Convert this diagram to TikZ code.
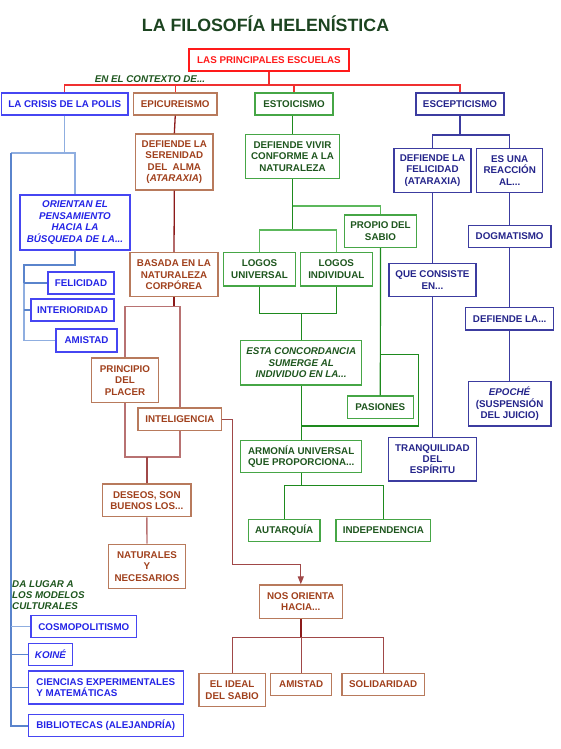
\documentclass[tikz,border=0pt]{standalone}
\usepackage{fontspec}
\setmainfont{Liberation Sans}
\usetikzlibrary{arrows.meta}
\definecolor{cRed}{HTML}{FF1A1A}
\definecolor{cRedL}{HTML}{F03030}
\definecolor{cBlueT}{HTML}{2424E6}
\definecolor{cBlueB}{HTML}{4646F2}
\definecolor{cBlueL}{HTML}{5A84CC}
\definecolor{cBlueL2}{HTML}{8FAEE0}
\definecolor{cBrT}{HTML}{A0401C}
\definecolor{cBrB}{HTML}{B87A5C}
\definecolor{cBrD}{HTML}{8C1A1A}
\definecolor{cBrL}{HTML}{B87272}
\definecolor{cBrM}{HTML}{A04848}
\definecolor{cGrT}{HTML}{1E561E}
\definecolor{cGrB}{HTML}{46A646}
\definecolor{cGrD}{HTML}{1E8A1E}
\definecolor{cGrL}{HTML}{5CB85C}
\definecolor{cNvT}{HTML}{24248A}
\definecolor{cNvB}{HTML}{3C3CA0}
\definecolor{cTitle}{HTML}{1C4420}
\tikzset{
  box/.style={draw, line width=1.4pt, inner sep=0pt, align=center,
    font=\fontsize{9.8}{11.4}\selectfont\bfseries},
  rd/.style={box, draw=cRed, text=cRed},
  bl/.style={box, draw=cBlueB, text=cBlueT},
  br/.style={box, draw=cBrB, text=cBrT},
  gr/.style={box, draw=cGrB, text=cGrT},
  nv/.style={box, draw=cNvB, text=cNvT},
  lab/.style={inner sep=0pt, text=cGrT, font=\fontsize{9.8}{11.3}\selectfont\bfseries\itshape},
  redl/.style={draw=cRedL, line width=1.2pt},
  bll/.style={draw=cBlueL2, line width=1.3pt},
  blm/.style={draw=cBlueL, line width=2pt},
  brd/.style={draw=cBrD, line width=1.3pt},
  brl/.style={draw=cBrL, line width=1.4pt},
  brm/.style={draw=cBrM, line width=1.3pt},
  grd/.style={draw=cGrD, line width=1.2pt},
  grl/.style={draw=cGrL, line width=1.2pt},
  nvl/.style={draw=cNvB, line width=1.2pt},
}
\newcommand\B[7]{\node[#2, minimum width={#5pt-#3pt}, minimum height={#6pt-#4pt}] (#1) at ({(#3+#5)/2},{(#4+#6)/2}) {#7};}
\begin{document}
\begin{tikzpicture}[x=1pt,y=-1pt]
\useasboundingbox (0,0) rectangle (560,749);
\node[anchor=base, inner sep=0pt, text=cTitle, font=\fontsize{17.8}{20}\selectfont\bfseries] (title) at (265.5,31.5) {LA FILOSOFÍA HELENÍSTICA};

% top level
\B{principales}{rd}{189}{49}{349}{71}{LAS PRINCIPALES ESCUELAS}
\node[lab] (ctx) at (150,79) {EN EL CONTEXTO DE...};
\B{crisis}{bl}{1.5}{93}{128}{115}{LA CRISIS DE LA POLIS}
\B{epi}{br}{133.5}{93}{217}{115}{EPICUREISMO}
\B{esto}{gr}{255}{93}{333}{115}{ESTOICISMO}
\B{esc}{nv}{416}{93}{504}{115}{ESCEPTICISMO}

% blue branch
\B{orientan}{bl}{20}{195}{130}{250}{\itshape ORIENTAN EL\\\itshape PENSAMIENTO\\\itshape HACIA LA\\\itshape BÚSQUEDA DE LA...}
\B{felic}{bl}{48}{272}{114}{294}{FELICIDAD}
\B{inter}{bl}{31}{299}{114}{321}{INTERIORIDAD}
\B{amisA}{bl}{56}{329}{117}{352}{AMISTAD}
\node[lab, anchor=west, align=left] (dalugar) at (12,595) {DA LUGAR A\\LOS MODELOS\\CULTURALES};
\B{cosmo}{bl}{31}{615.7}{136.7}{637.7}{COSMOPOLITISMO}
\B{koine}{bl}{28.3}{643.3}{72.7}{665.3}{\itshape KOINÉ}
\node[box, draw=cBlueB, text=cBlueT, align=left, minimum width=155pt, minimum height=33pt] (ciencias) at (105.8,687.5) {CIENCIAS EXPERIMENTALES\\Y MATEMÁTICAS};
\B{biblio}{bl}{28.3}{714.3}{183.3}{736.7}{BIBLIOTECAS (ALEJANDRÍA)}

% epicurean branch
\B{serenidad}{br}{135.7}{134}{213}{190}{DEFIENDE LA\\SERENIDAD\\DEL\ \ ALMA\\(\textit{ATARAXIA})}
\B{basada}{br}{130}{252.7}{218}{296.7}{BASADA EN LA\\NATURALEZA\\CORPÓREA}
\B{principio}{br}{91.7}{358}{158.3}{402.7}{PRINCIPIO\\DEL\\PLACER}
\B{intel}{br}{138}{408}{221.7}{430.5}{INTELIGENCIA}
\B{deseos}{br}{102.7}{484}{191}{516.7}{DESEOS, SON\\BUENOS LOS...}
\B{naturales}{br}{108.3}{544.3}{185.7}{588.3}{NATURALES\\Y\\NECESARIOS}
\B{nos}{br}{259.3}{585}{342.3}{618.7}{NOS ORIENTA\\HACIA...}
\B{ideal}{br}{199}{673.3}{265.3}{706.7}{EL IDEAL\\DEL SABIO}
\B{amisB}{br}{270.7}{673.3}{331.7}{695.7}{AMISTAD}
\B{solid}{br}{342}{673.3}{424.3}{695.7}{SOLIDARIDAD}

% stoic branch
\B{vivir}{gr}{245.7}{134.3}{339.3}{178.7}{DEFIENDE VIVIR\\CONFORME A LA\\NATURALEZA}
\B{propio}{gr}{344.3}{215}{416.7}{247.3}{PROPIO DEL\\SABIO}
\B{lu}{gr}{223.3}{252.3}{295.7}{286}{LOGOS\\UNIVERSAL}
\B{li}{gr}{300.3}{252.3}{372.3}{286}{LOGOS\\INDIVIDUAL}
\B{esta}{gr}{240.7}{340.7}{361.7}{385}{\itshape ESTA CONCORDANCIA\\\itshape SUMERGE AL\\\itshape INDIVIDUO EN LA...}
\B{pasiones}{gr}{347.3}{396}{413.3}{418.3}{PASIONES}
\B{armonia}{gr}{240.7}{440.7}{361.7}{472.7}{ARMONÍA UNIVERSAL\\QUE PROPORCIONA...}
\B{autar}{gr}{248.3}{519.3}{320}{541.7}{AUTARQUÍA}
\B{indep}{gr}{336}{519.3}{430.7}{541.7}{INDEPENDENCIA}

% sceptic branch
\B{felE}{nv}{394}{148.3}{471}{192.3}{DEFIENDE LA\\FELICIDAD\\(ATARAXIA)}
\B{reac}{nv}{476.7}{148.3}{542.7}{192.3}{ES UNA\\REACCIÓN\\AL...}
\B{dogma}{nv}{468.3}{225.3}{551}{247.3}{DOGMATISMO}
\B{consiste}{nv}{389}{263.3}{476}{296.7}{QUE CONSISTE\\EN...}
\B{defla}{nv}{465.7}{307.7}{553.7}{330}{DEFIENDE LA...}
\B{epoche}{nv}{468.3}{381.7}{551}{426}{\textit{EPOCHÉ}\\(SUSPENSIÓN\\DEL JUICIO)}
\B{tranq}{nv}{388.3}{437.3}{476.7}{481}{TRANQUILIDAD\\DEL\\ESPÍRITU}

% ---- connectors: top
\coordinate (bar) at (0,85);
\draw[redl] (principales.south) -- (principales.south |- bar);
\draw[redl] (crisis.north) -- (crisis.north |- bar) -- (esc.north |- bar) -- (esc.north);
\draw[redl] (epi.north) -- (epi.north |- bar);
\draw[redl] (esto.north) -- (esto.north |- bar);

% blue
\coordinate (cr) at (11,153);
\draw[bll] (crisis.south) -- (crisis.south |- cr);
\draw[bll] (cr) -- (orientan.north |- cr) -- (orientan.north);
\draw[blm] (cr) -- (cr |- biblio.west) -- (biblio.west);
\draw[bll] (cr |- cosmo.west) -- (cosmo.west);
\draw[blm, line width=1.3pt] (cr |- koine.west) -- (koine.west);
\draw[blm, line width=1.3pt] (cr |- ciencias.west) -- (ciencias.west);
\coordinate (oj) at (24,265);
\draw[blm, line width=1.3pt] (orientan.south) -- (orientan.south |- oj) -- (oj) -- (oj |- felic.west);
\draw[bll] (oj |- felic.west) -- (oj |- amisA.west) -- (amisA.west);
\draw[blm, line width=1.3pt] (oj |- felic.west) -- (felic.west);
\draw[blm, line width=1.3pt] (oj |- inter.west) -- (inter.west);

% epicurean
\draw[brd] (epi.south) -- (serenidad.north);
\draw[brd] (serenidad.south) -- (basada.north);
\coordinate (e1) at (0,306.7);
\draw[brd] (basada.south) -- (basada.south |- e1);
\draw[brl] (principio.north) -- (principio.north |- e1) -- (intel.north |- e1) -- (intel.north);
\coordinate (e2) at (0,457);
\draw[brl] (principio.south) -- (principio.south |- e2) -- (intel.south |- e2) -- (intel.south);
\draw[brd, line width=1.9pt, draw=cBrM] (deseos.north) -- (deseos.north |- e2);
\draw[brl] (deseos.south) -- (naturales.north);
\coordinate (e3) at (232.7,564.7);
\draw[brm, -{Triangle[length=8pt,width=6pt]}] (intel.east) -- (intel.east -| e3) -- (e3) -- (nos.north |- e3) -- (nos.north);
\coordinate (e4) at (0,637.7);
\draw[brd, line width=1.7pt] (nos.south) -- (nos.south |- e4);
\draw[brm] (ideal.north) -- (ideal.north |- e4) -- (solid.north |- e4) -- (solid.north);
\draw[brm] (amisB.north) -- (amisB.north |- e4);

% stoic
\draw[grd] (vivir.north |- esto.south) -- (vivir.north);
\coordinate (s1) at (0,206);
\coordinate (s2) at (0,230);
\draw[grd] (vivir.south) -- (vivir.south |- s2);
\draw[grl] (vivir.south |- s1) -- (propio.north |- s1) -- (propio.north);
\draw[grl] (lu.north) -- (lu.north |- s2) -- (li.north |- s2) -- (li.north);
\coordinate (s3) at (0,313.3);
\draw[grd] (lu.south) -- (lu.south |- s3) -- (li.south |- s3) -- (li.south);
\draw[grd] (esta.north |- s3) -- (esta.north);
\draw[grd] (propio.south) -- (pasiones.north);
\coordinate (s4) at (418.3,354.3);
\coordinate (s5) at (418.3,426);
\draw[grd] (propio.south |- s4) -- (s4) -- (s5) -- (esta.south |- s5);
\draw[grd] (esta.south) -- (armonia.north);
\coordinate (s6) at (0,485.7);
\draw[grd] (armonia.south) -- (armonia.south |- s6);
\draw[grd] (autar.north) -- (autar.north |- s6) -- (indep.north |- s6) -- (indep.north);

% sceptic
\coordinate (k1) at (0,135);
\draw[nvl] (esc.south) -- (esc.south |- k1);
\draw[nvl] (felE.north) -- (felE.north |- k1) -- (reac.north |- k1) -- (reac.north);
\draw[nvl] (felE.south) -- (felE.south |- consiste.north);
\draw[nvl] (consiste.south) -- (consiste.south |- tranq.north);
\draw[nvl] (reac.south) -- (reac.south |- dogma.north);
\draw[nvl] (dogma.south) -- (dogma.south |- defla.north);
\draw[nvl] (defla.south) -- (defla.south |- epoche.north);
\end{tikzpicture}
\end{document}
